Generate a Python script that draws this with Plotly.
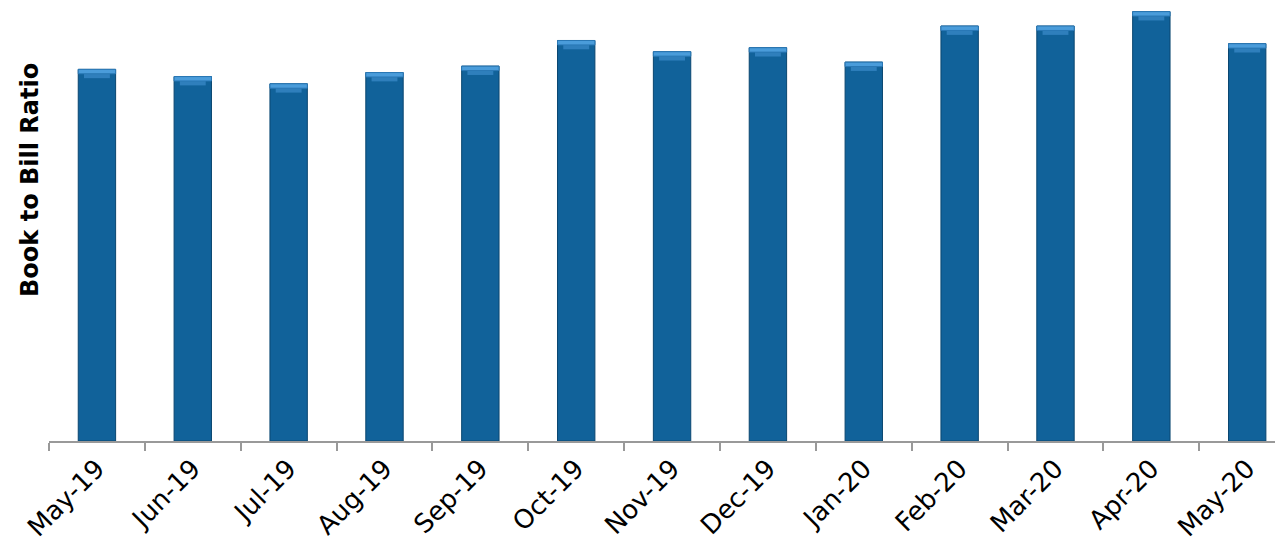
import plotly.graph_objects as go

months = ["May-19", "Jun-19", "Jul-19", "Aug-19", "Sep-19", "Oct-19", "Nov-19",
          "Dec-19", "Jan-20", "Feb-20", "Mar-20", "Apr-20", "May-20"]
book_to_bill = [0.927, 0.909, 0.891, 0.919, 0.935, 0.999, 0.971,
                0.981, 0.945, 1.035, 1.035, 1.071, 0.991]

# bevel highlight styling (derived from the values, drawn via the axes)
CAP1 = 0.011
CAP2 = 0.011
cap1_base = [v - CAP1 for v in book_to_bill]
cap2_base = [v - CAP1 - CAP2 for v in book_to_bill]
n = len(book_to_bill)

fig = go.Figure()
fig.add_trace(go.Bar(
    x=months, y=book_to_bill, width=0.39,
    marker=dict(color="#11629A", line=dict(color="#0A4670", width=1)),
    hoverinfo="x+y", name="Book to Bill",
))
fig.add_trace(go.Bar(
    x=months, y=[CAP2] * n, base=cap2_base, width=0.27,
    marker=dict(color="#2F7FBC", line=dict(width=0)),
    hoverinfo="skip", showlegend=False,
))
fig.add_trace(go.Bar(
    x=months, y=[CAP1] * n, base=cap1_base, width=0.39,
    marker=dict(color="#4A9CDA", line=dict(color="#2A78B5", width=1)),
    hoverinfo="skip", showlegend=False,
))

fig.update_layout(
    width=1275, height=550,
    margin=dict(l=49, r=0, t=0, b=109, autoexpand=False),
    paper_bgcolor="white", plot_bgcolor="white",
    barmode="overlay",
    showlegend=False,
    font=dict(family="DejaVu Sans", color="#000000"),
    xaxis=dict(
        type="category", range=[-0.5, 12.29], automargin=False,
        tickson="boundaries", ticks="outside", ticklen=8, tickwidth=2,
        tickcolor="#999999", showline=True, linecolor="#999999", linewidth=2,
        tickangle=-45, tickfont=dict(size=26, family="DejaVu Sans"),
        showgrid=False, zeroline=False,
    ),
    yaxis=dict(
        range=[0, 1.1], showticklabels=False, showgrid=False, automargin=False,
        zeroline=False, showline=False, ticks="",
    ),
    annotations=[dict(
        text="<b>Book to Bill Ratio</b>", textangle=-90,
        xref="paper", yref="paper", x=-0.0155, y=0.592,
        xanchor="center", yanchor="middle", showarrow=False,
        font=dict(size=24, family="DejaVu Sans", color="#000000"),
    )],
)

fig.write_html("out.html", config={"displayModeBar": False},
               post_script="document.body.style.margin='0';")
